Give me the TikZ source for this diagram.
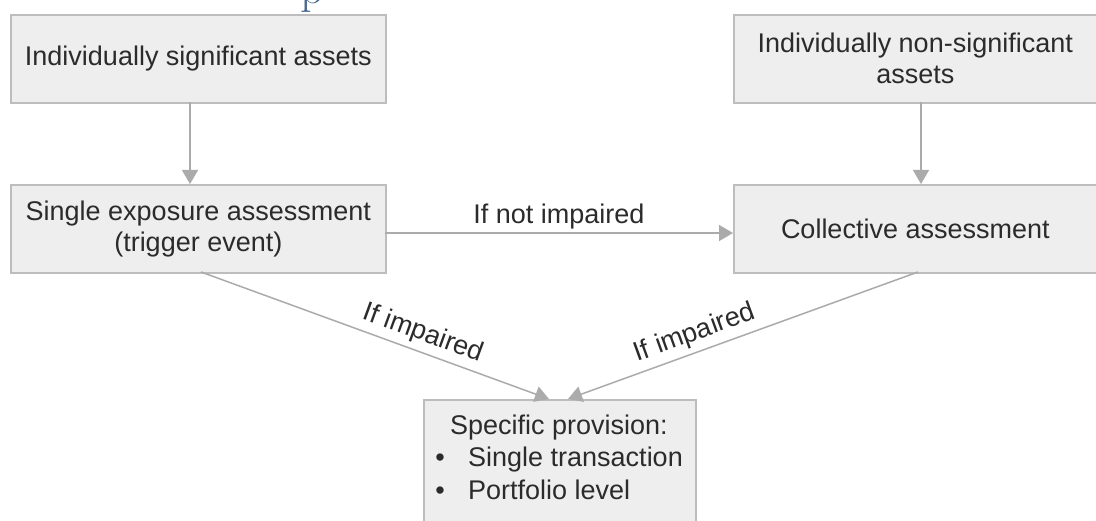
\documentclass[tikz,border=0pt]{standalone}
\usepackage{fontspec}
\setmainfont{Liberation Sans}
\newfontfamily\headfont{Latin Modern Roman}
\usetikzlibrary{arrows.meta}
\definecolor{boxfill}{HTML}{EEEEEE}
\definecolor{boxline}{HTML}{BDBDBD}
\definecolor{wire}{HTML}{ABABAB}
\definecolor{ink}{HTML}{2B2B2B}
\definecolor{headblue}{HTML}{4A6B8E}
\tikzset{
  x=1pt, y=-1pt,
  stage/.style={draw=boxline, line width=1.6pt, fill=boxfill, inner sep=0pt,
    anchor=north west, text=ink, align=center,
    font=\fontsize{27}{31}\selectfont},
  flow/.style={draw=wire, line width=1.5pt,
    -{Triangle[length=14pt, width=16pt]}},
  tag/.style={text=ink, font=\fontsize{27}{31}\selectfont, inner sep=2pt},
  body/.style={text=ink, font=\fontsize{27}{31}\selectfont, inner sep=0pt}
}
\begin{document}
\begin{tikzpicture}
\useasboundingbox (0,0) rectangle (1096,521);
\clip (0,0) rectangle (1096,521);
\fill[white] (0,0) rectangle (1096,521);

% fragment of the section heading above the chart
\node[text=headblue, font=\headfont\fontsize{46}{46}\selectfont, anchor=base,
  inner sep=0pt] (head) at (312,4) {p};

% boxes
\node[stage, minimum width=375pt, minimum height=88pt] (sig) at (10,14)
  {Individually significant assets};
\node[stage, minimum width=363pt, minimum height=88pt] (nonsig) at (733,14)
  {Individually non-significant\\assets};
\node[stage, minimum width=375pt, minimum height=88pt] (single) at (10,184)
  {Single exposure assessment\\(trigger event)};
\node[stage, minimum width=363pt, minimum height=88pt] (coll) at (733,184)
  {Collective assessment};
\node[stage, minimum width=272pt, minimum height=150pt] (prov) at (423,399) {};

% contents of the provision box
\node[body, anchor=base] (provtitle) at (559,435) {Specific provision:};
\node[body, anchor=base] (b1) at (440,467) {\textbullet};
\node[body, anchor=base west] (t1) at (468,467) {Single transaction};
\node[body, anchor=base] (b2) at (440,500) {\textbullet};
\node[body, anchor=base west] (t2) at (468,500) {Portfolio level};

% anchor points of the connectors
\coordinate (sigS) at (190,102);
\coordinate (singleN) at (190,184);
\coordinate (nonsigS) at (921,102);
\coordinate (collN) at (921,184);
\coordinate (singleE) at (385,233);
\coordinate (collW) at (733,233);
\coordinate (singleS) at (201,272);
\coordinate (collS) at (918,272);
\coordinate (provL) at (549,399);
\coordinate (provR) at (568,399);

% connectors
\draw[flow] (sigS) -- (singleN);
\draw[flow] (nonsigS) -- (collN);
\draw[flow] (singleE) -- node[tag, above=1pt] (notimp) {If not impaired} (collW);
\draw[flow] (singleS) -- node[tag, sloped, above=3pt, pos=0.62] (impL) {If impaired} (provL);
\draw[flow] (collS) -- node[tag, sloped, above=3pt, pos=0.62] (impR) {If impaired} (provR);
\end{tikzpicture}
\end{document}
